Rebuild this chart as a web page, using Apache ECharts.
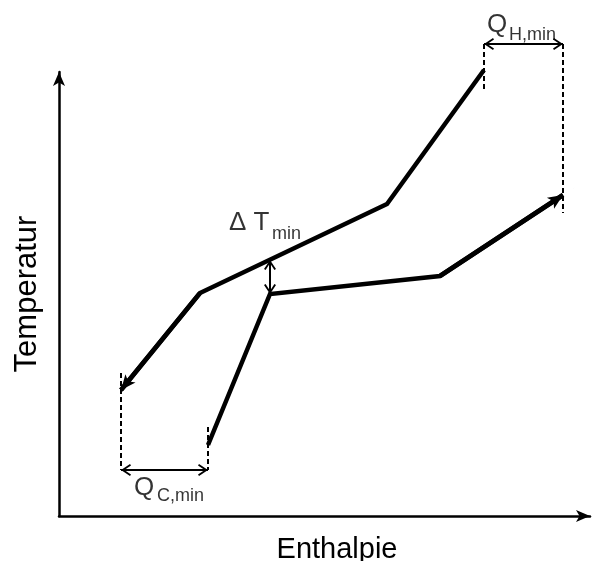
<!DOCTYPE html>
<html>
<head>
<meta charset="utf-8">
<script src="https://cdn.jsdelivr.net/npm/echarts@6/dist/echarts.min.js"></script>
<style>html,body{margin:0;padding:0;background:#fff}#c{width:597px;height:561px}</style>
</head>
<body>
<div id="c"></div>
<script>
// Hot composite curve (enthalpy, temperature) - drawn from hot end to cold end
var hotCurve = [[425,446],[328,312],[141,223],[62,126]];
// Cold composite curve - drawn from cold end to hot end
var coldCurve = [[149,71],[211,222],[381,240],[504,321]];
// Pinch / minimum utility markers
var qcLeftX = 62, qcRightX = 149, qcArrowY = 46, qcLeftTop = 143, qcRightTop = 89;
var qhLeftX = 425, qhRightX = 504, qhArrowY = 472, qhLeftBottom = 426, qhRightBottom = 303;
var dtX = 211, dtTop = 256, dtBottom = 222;
// Labels: [x, y, text]
var labelMain = [[170,293,'Δ T'],[428,491,'Q'],[75,28,'Q']];
var labelSub = [[213,282,'min'],[450,481,'H,min'],[98,20,'C,min']];
var axisNames = ['Enthalpie','Temperatur'];

var FONT = 'Liberation Sans, Arial, sans-serif';
// symbols whose tip sits at the centre of their box (a hair-thin tail balances the box)
var tipArrow = 'path://M10,0 L17,20 L10,15 L3,20 Z M9.995,-20 L10.005,-20 L10.005,0 L9.995,0 Z';
var chevron = 'path://M6,0 L12,9 L10.4,10 L6,3.3 L1.6,10 L0,9 Z M5.995,-10 L6.005,-10 L6.005,0 L5.995,0 Z';

function seg(a, b, s0, s1) {
  return [{coord: a, symbol: s0}, {coord: b, symbol: s1}];
}

var noAxisParts = {axisTick: {show: false}, axisLabel: {show: false}, splitLine: {show: false}};
function ax(extra) { return Object.assign({}, noAxisParts, extra); }

var chart = echarts.init(document.getElementById('c'), null, {renderer: 'canvas'});
var option = {
  animation: false,
  backgroundColor: '#fff',
  grid: [
    {left: 59, right: 7, top: 72, bottom: 45, outerBoundsMode: 'none', containLabel: false},
    {left: 59, right: 7, top: 16, bottom: 45, outerBoundsMode: 'none', containLabel: false}
  ],
  xAxis: [
    ax({
      gridIndex: 0, type: 'value', min: 0, max: 531,
      name: axisNames[0], nameLocation: 'middle', nameGap: 19,
      nameTextStyle: {fontFamily: FONT, fontSize: 29, color: '#000', padding: [0,0,0,25]},
      axisLine: {show: true, symbol: ['none','arrow'], symbolSize: [9,14],
        lineStyle: {color: '#000', width: 2.5}}
    }),
    ax({gridIndex: 1, type: 'value', min: 0, max: 531, axisLine: {show: false}})
  ],
  yAxis: [
    ax({
      gridIndex: 0, type: 'value', min: 0, max: 444,
      name: axisNames[1], nameLocation: 'middle', nameGap: 16,
      nameTextStyle: {fontFamily: FONT, fontSize: 31, color: '#000'},
      axisLine: {show: true, symbol: ['none','arrow'], symbolSize: [9,14],
        lineStyle: {color: '#000', width: 2.5}}
    }),
    ax({gridIndex: 1, type: 'value', min: 0, max: 500, axisLine: {show: false}})
  ],
  series: [
    {
      type: 'line', xAxisIndex: 1, yAxisIndex: 1, data: hotCurve, symbol: 'none', clip: false,
      lineStyle: {color: '#000', width: 4.5, join: 'miter'},
      markLine: {
        silent: true, animation: false, label: {show: false},
        lineStyle: {color: '#000', width: 4.5, type: 'solid'},
        symbolSize: [13, 30],
        data: [seg(hotCurve[2], hotCurve[3], 'none', tipArrow)]
      }
    },
    {
      type: 'line', xAxisIndex: 1, yAxisIndex: 1, data: coldCurve, symbol: 'none', clip: false,
      lineStyle: {color: '#000', width: 4.5, join: 'miter'},
      markLine: {
        silent: true, animation: false, label: {show: false},
        lineStyle: {color: '#000', width: 4.5, type: 'solid'},
        symbolSize: [13, 30],
        data: [seg(coldCurve[2], coldCurve[3], 'none', tipArrow)]
      }
    },
    {
      type: 'line', xAxisIndex: 1, yAxisIndex: 1, data: [], clip: false,
      markLine: {
        silent: true, animation: false, label: {show: false},
        lineStyle: {color: '#000', width: 2, type: [5,3]},
        symbol: 'none',
        data: [
          seg([qcLeftX, qcLeftTop], [qcLeftX, qcArrowY], 'none', 'none'),
          seg([qcRightX, qcRightTop], [qcRightX, qcArrowY], 'none', 'none'),
          seg([qhLeftX, qhArrowY], [qhLeftX, qhLeftBottom], 'none', 'none'),
          seg([qhRightX, qhArrowY], [qhRightX, qhRightBottom], 'none', 'none')
        ]
      }
    },
    {
      type: 'line', xAxisIndex: 1, yAxisIndex: 1, data: [], clip: false,
      markLine: {
        silent: true, animation: false, label: {show: false},
        lineStyle: {color: '#000', width: 2, type: 'solid'},
        symbolSize: [12, 20],
        data: [
          seg([qcLeftX, qcArrowY], [qcRightX, qcArrowY], chevron, chevron),
          seg([qhLeftX, qhArrowY], [qhRightX, qhArrowY], chevron, chevron),
          seg([dtX, dtTop], [dtX, dtBottom], chevron, chevron)
        ]
      }
    },
    {
      type: 'scatter', xAxisIndex: 1, yAxisIndex: 1, symbolSize: 0, clip: false, silent: true,
      data: labelMain.map(function (d) { return {value: [d[0], d[1]], name: d[2]}; }),
      label: {show: true, position: [0,0], align: 'left', verticalAlign: 'middle',
        formatter: '{b}', fontFamily: FONT, fontSize: 26, color: '#000'}
    },
    {
      type: 'scatter', xAxisIndex: 1, yAxisIndex: 1, symbolSize: 0, clip: false, silent: true,
      data: labelSub.map(function (d) { return {value: [d[0], d[1]], name: d[2]}; }),
      label: {show: true, position: [0,0], align: 'left', verticalAlign: 'middle',
        formatter: '{b}', fontFamily: FONT, fontSize: 18, color: '#000'}
    }
  ]
};
chart.setOption(option);
</script>
</body>
</html>
